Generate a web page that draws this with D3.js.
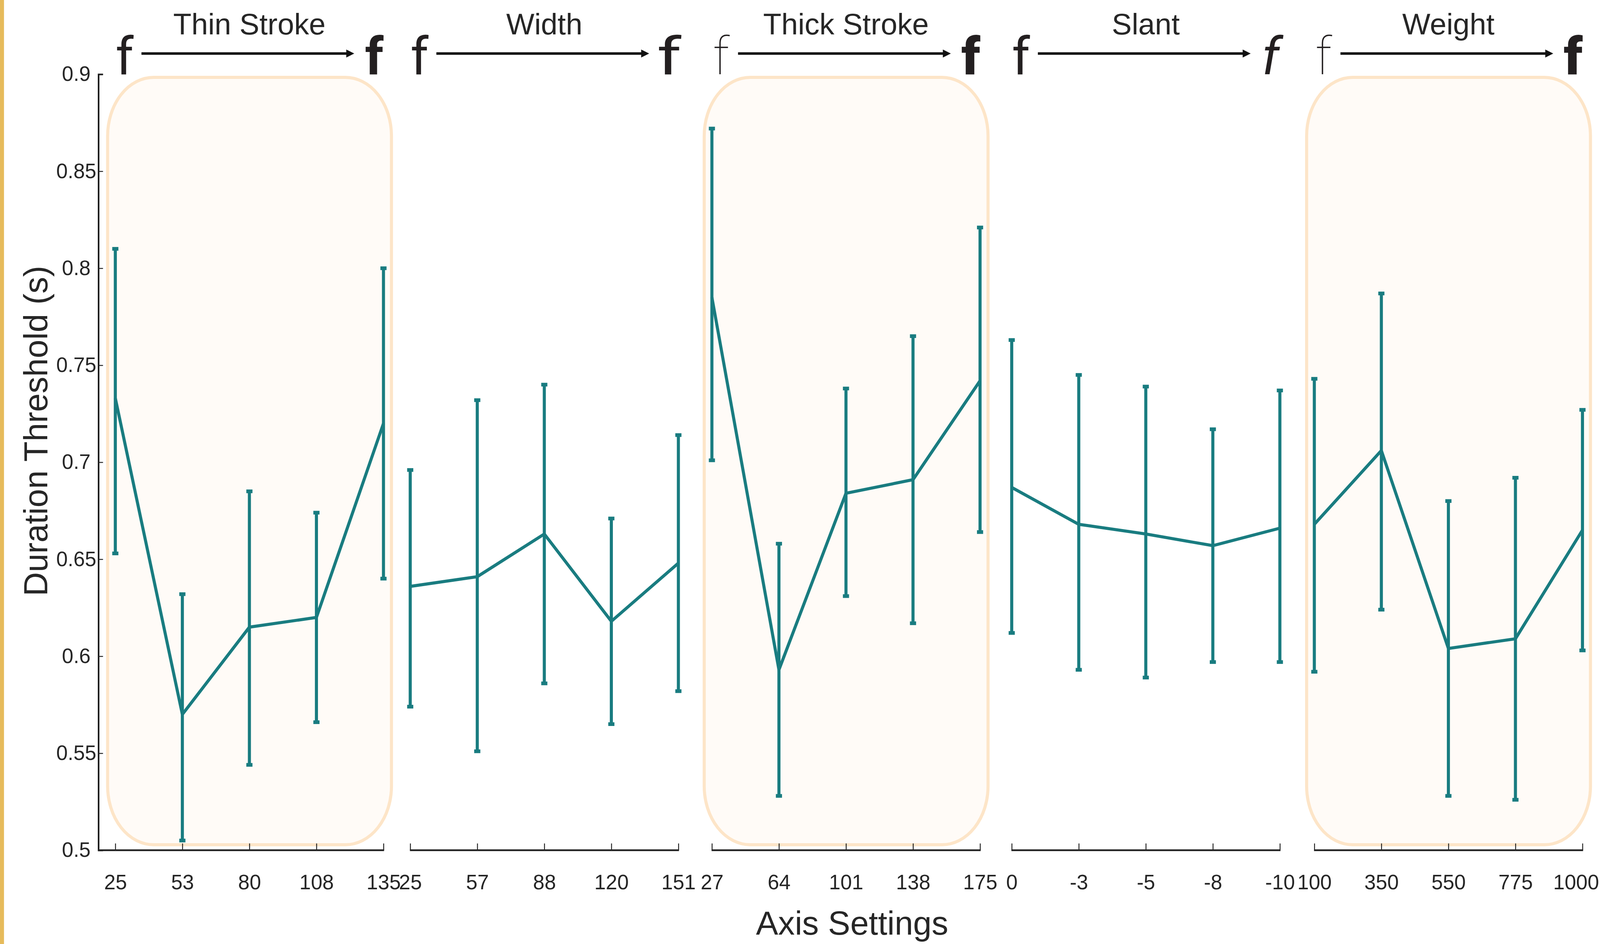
<!DOCTYPE html>
<meta charset="utf-8">
<style>
    html, body { margin: 0; padding: 0; background: #fff; overflow: hidden; }
    svg { display: block; width: 100vw; height: 100vh; }
    text { font-family: "Liberation Sans", Arial, sans-serif; fill: #262626; }
    .glyph { font-family: Roboto, "Liberation Sans", sans-serif; fill: #231f20; }
</style>

<svg></svg>

<script src="https://cdn.jsdelivr.net/npm/d3@7"></script>
<script>

    // DATA

    var panels = ["Thin Stroke", "Width", "Thick Stroke", "Slant", "Weight"];
    var highlighted = [true, false, true, false, true];

    var settings = [
        [25, 53, 80, 108, 135],
        [25, 57, 88, 120, 151],
        [27, 64, 101, 138, 175],
        [0, -3, -5, -8, -10],
        [100, 350, 550, 775, 1000]
    ];

    var means = [
        [0.733, 0.570, 0.615, 0.620, 0.720],
        [0.636, 0.641, 0.663, 0.618, 0.648],
        [0.785, 0.593, 0.684, 0.691, 0.742],
        [0.687, 0.668, 0.663, 0.657, 0.666],
        [0.668, 0.706, 0.604, 0.609, 0.665]
    ];

    var upper = [
        [0.810, 0.632, 0.685, 0.674, 0.800],
        [0.696, 0.732, 0.740, 0.671, 0.714],
        [0.872, 0.658, 0.738, 0.765, 0.821],
        [0.763, 0.745, 0.739, 0.717, 0.737],
        [0.743, 0.787, 0.680, 0.692, 0.727]
    ];

    var lower = [
        [0.653, 0.505, 0.544, 0.566, 0.640],
        [0.574, 0.551, 0.586, 0.565, 0.582],
        [0.701, 0.528, 0.631, 0.617, 0.664],
        [0.612, 0.593, 0.589, 0.597, 0.597],
        [0.592, 0.624, 0.528, 0.526, 0.603]
    ];

    var yTicks = [0.5, 0.55, 0.6, 0.65, 0.7, 0.75, 0.8, 0.85, 0.9];

    // LAYOUT (measured on a 5203 x 2416 frame, rescaled to the window)

    var teal = "#197c80",
        baseW = 5203, baseH = 2416,
        panelLeft = [375, 1334, 2315, 3290, 4274],
        panelW = 872,
        yAxisX = 320;

    // how the little "f" at each end of the arrow is drawn
    var leftF = [
        { w: 400 }, { w: 400 }, { w: 100 }, { w: 400 }, { w: 100 }
    ];
    var rightF = [
        { w: 700 }, { w: 400, sx: 1.35 }, { w: 900 }, { w: 400, italic: true }, { w: 900 }
    ];

    var svg = d3.select("svg");

    // DRAWING

    function draw() {

        var W = window.innerWidth || baseW,
            H = window.innerHeight || baseH,
            sx = W / baseW,
            sy = H / baseH,
            k = Math.sqrt(sx * sy),     // titles and glyphs
            kt = Math.min(sx, sy);      // tick labels and strokes

        function X(v) { return v * sx; }
        function Y(v) { return v * sy; }

        svg.attr("viewBox", "0 0 " + W + " " + H);
        svg.selectAll("*").remove();

        var y = d3.scaleLinear().domain([0.5, 0.9]).range([Y(2176), Y(190)]);

        // golden edge of the neighbouring figure
        svg.append("rect")
            .attr("x", 0).attr("y", 0)
            .attr("width", X(13)).attr("height", H)
            .attr("fill", "#e6bb5b");

        // Y AXIS

        var gy = svg.append("g")
            .attr("transform", "translate(" + X(yAxisX) + ",0)");

        gy.call(d3.axisRight(y).tickValues(yTicks).tickSize(15 * kt).tickFormat(d3.format("")));
        gy.select(".domain").attr("stroke", "#111").attr("stroke-width", 5 * kt);
        gy.selectAll(".tick line").attr("stroke", "#222").attr("stroke-width", 3 * kt);
        gy.selectAll(".tick text")
            .attr("x", -72 * sx)
            .attr("text-anchor", "middle")
            .attr("font-size", 67 * kt)
            .attr("fill", "#262626");
        gy.selectAll(".tick").filter(function (d) { return d === 0.5; }).select("line").remove();

        svg.append("text")
            .attr("transform", "translate(" + X(154) + "," + Y(1103) + ") rotate(-90)")
            .attr("text-anchor", "middle")
            .attr("font-size", 96 * k)
            .text("Duration Threshold (s)");

        svg.append("text")
            .attr("x", X(2771)).attr("y", Y(2392))
            .attr("text-anchor", "middle")
            .attr("font-size", 96 * k)
            .text("Axis Settings");

        // PANELS

        var line = d3.line();

        panels.forEach(function (name, p) {

            var x0 = panelLeft[p],
                x = d3.scalePoint().domain(settings[p]).range([X(x0), X(x0 + panelW)]);

            var g = svg.append("g");

            if (highlighted[p]) {
                g.append("rect")
                    .attr("x", X(x0 - 25)).attr("y", Y(198))
                    .attr("width", X(panelW + 51)).attr("height", Y(1964))
                    .attr("rx", X(150)).attr("ry", Y(150))
                    .attr("fill", "#fffbf7")
                    .attr("stroke", "#fde5c8")
                    .attr("stroke-width", 10 * kt);
            }

            // x axis
            var gx = g.append("g")
                .attr("transform", "translate(0," + y(0.5) + ")")
                .call(d3.axisTop(x).tickSize(22 * kt).tickSizeOuter(0));
            gx.select(".domain").remove();
            gx.selectAll(".tick line").attr("stroke", "#222").attr("stroke-width", 3 * kt);
            gx.selectAll(".tick text")
                .attr("y", Y(100))
                .attr("font-size", 67 * kt)
                .attr("fill", "#262626");
            g.append("line")
                .attr("x1", p === 0 ? X(yAxisX) : X(x0 - 1)).attr("x2", X(x0 + panelW + 2))
                .attr("y1", y(0.5)).attr("y2", y(0.5))
                .attr("stroke", "#222").attr("stroke-width", 6 * kt);

            // keep the last label inside the frame
            gx.selectAll(".tick text").each(function (d) {
                var bb = this.getBBox(),
                    right = x(d) + bb.x + bb.width;
                if (right > W - 3) d3.select(this).attr("dx", (W - 3 - right) + "px");
            });

            // error bars
            settings[p].forEach(function (s, i) {
                var cx = x(s);
                g.append("line")
                    .attr("x1", cx).attr("x2", cx)
                    .attr("y1", y(upper[p][i])).attr("y2", y(lower[p][i]))
                    .attr("stroke", teal).attr("stroke-width", 10 * kt);
                [upper[p][i], lower[p][i]].forEach(function (v) {
                    g.append("rect")
                        .attr("x", cx - 10 * kt).attr("y", y(v) - 6 * kt)
                        .attr("width", 20 * kt).attr("height", 12 * kt)
                        .attr("fill", teal);
                });
            });

            // mean line
            g.append("path")
                .attr("d", line(settings[p].map(function (s, i) { return [x(s), y(means[p][i])]; })))
                .attr("fill", "none")
                .attr("stroke", teal)
                .attr("stroke-width", 10 * kt)
                .attr("stroke-linejoin", "miter");

            // header: f ----> f
            var ay = Y(137),
                ax1 = X(x0 + 85),
                ax2 = X(x0 + panelW - 95),
                ah = 26 * kt;
            g.append("line")
                .attr("x1", ax1).attr("x2", ax2 - ah * 0.8)
                .attr("y1", ay).attr("y2", ay)
                .attr("stroke", "#111").attr("stroke-width", 8 * kt);
            g.append("path")
                .attr("d", "M" + (ax2 - ah) + "," + (ay - ah / 2) + "L" + ax2 + "," + ay + "L" + (ax2 - ah) + "," + (ay + ah / 2) + "Z")
                .attr("fill", "#111");

            g.append("text")
                .attr("x", X(x0 + panelW / 2)).attr("y", Y(88))
                .attr("text-anchor", "middle")
                .attr("font-size", 86 * k)
                .attr("fill", "#111")
                .text(name);

            var lf = leftF[p], rf = rightF[p];
            g.append("text")
                .attr("class", "glyph")
                .attr("x", X(x0 + 30)).attr("y", Y(190))
                .attr("text-anchor", "middle")
                .attr("font-size", 150 * k)
                .attr("font-weight", lf.w)
                .text("f");
            g.append("text")
                .attr("class", "glyph")
                .attr("transform", "translate(" + X(x0 + panelW - 30) + "," + Y(190) + ") scale(" + (rf.sx || 1) + ",1)")
                .attr("text-anchor", "middle")
                .attr("font-size", 150 * k)
                .attr("font-weight", rf.w)
                .attr("font-style", rf.italic ? "italic" : "normal")
                .text("f");
        });
    }

    // START!
    window.addEventListener("resize", draw);
    draw();

</script>
